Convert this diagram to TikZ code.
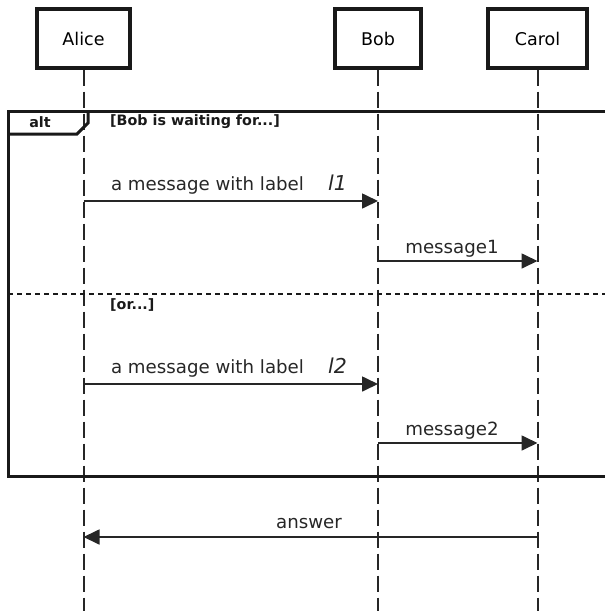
\documentclass[tikz,border=0pt]{standalone}
\usepackage{fontspec}
\setmainfont{DejaVu Sans}
\usetikzlibrary{arrows.meta}
\begin{document}
\begin{tikzpicture}[x=1pt,y=-1pt,
  actor/.style={draw=black!90,line width=3.2pt,minimum width=#1,minimum height=59pt,inner sep=0pt,font=\fontsize{17.5}{20}\selectfont},
  lifeline/.style={draw=black!85,line width=2pt,dash pattern=on 16pt off 6pt},
  msg/.style={draw=black!85,line width=1.7pt,-{Triangle[length=16pt,width=15pt]}},
  lbl/.style={anchor=base,inner sep=0pt,font=\fontsize{18.2}{20}\selectfont,text=black!85},
  ilbl/.style={anchor=base west,inner sep=0pt,font=\fontsize{20.5}{22}\selectfont\itshape,text=black!85},
  guard/.style={anchor=west,inner sep=0pt,font=\fontsize{14.3}{16}\selectfont\bfseries,text=black!90},
  frameline/.style={draw=black!90,line width=3pt}]
\useasboundingbox (0,0) rectangle (605,611);
\clip (0,0) rectangle (605,611);
% actors
\node[actor=93pt] (alice) at (83.5,38.5) {Alice};
\node[actor=86pt] (bob) at (378,38.5) {Bob};
\node[actor=99pt] (carol) at (537.5,38.5) {Carol};
\coordinate (aend) at (83.5,615);
\coordinate (bend) at (378,615);
\coordinate (cend) at (537.5,615);
\draw[lifeline] (alice.south) -- (aend);
\draw[lifeline] (bob.south) -- (bend);
\draw[lifeline] (carol.south) -- (cend);
% alt frame
\draw[frameline] (8,111) rectangle (640,476);
\draw[frameline] (8,134) -- (77,134) -- (88,123) -- (88,111);
\node[guard,anchor=center] (alt) at (40,122) {alt};
\node[guard] (g1) at (110,122) {[Bob is waiting for...]};
\draw[draw=black!90,line width=2.5pt,dash pattern=on 5pt off 4pt] (8,294) -- (640,294);
\node[guard] (g2) at (110,305) {[or...]};
% message coordinates
\coordinate (a1) at (83.5,201); \coordinate (b1) at (378,201);
\coordinate (b2) at (378,261); \coordinate (c2) at (537.5,261);
\coordinate (a3) at (83.5,384); \coordinate (b3) at (378,384);
\coordinate (b4) at (378,443); \coordinate (c4) at (537.5,443);
\coordinate (c5) at (537.5,537); \coordinate (a5) at (83.5,537);
\draw[msg] (a1) -- (b1);
\node[lbl] (t1) at (207.5,190) {a message with label};
\node[ilbl] (l1) at (328,190) {l1};
\draw[msg] (b2) -- (c2);
\node[lbl] (t2) at (452,253) {message1};
\draw[msg] (a3) -- (b3);
\node[lbl] (t3) at (207.5,373) {a message with label};
\node[ilbl] (l2) at (328,373) {l2};
\draw[msg] (b4) -- (c4);
\node[lbl] (t4) at (452,435) {message2};
\draw[msg] (c5) -- (a5);
\node[lbl] (t5) at (309,528) {answer};
\end{tikzpicture}
\end{document}
